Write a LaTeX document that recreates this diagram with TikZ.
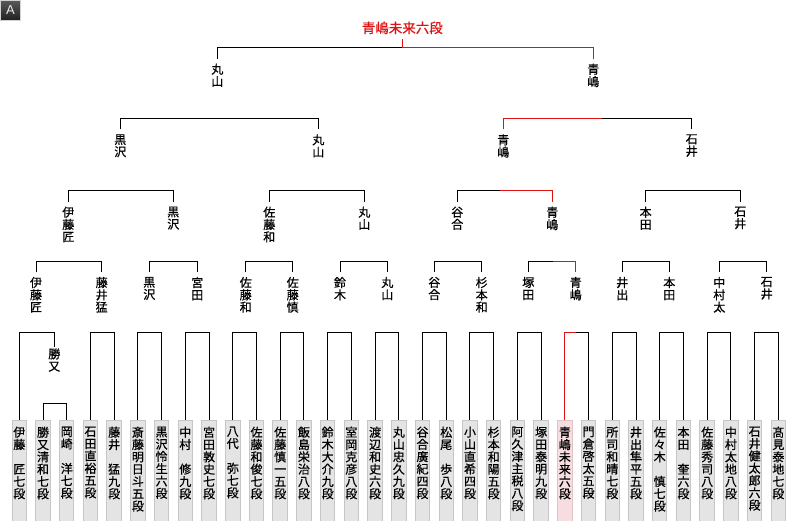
\documentclass[tikz,border=0pt]{standalone}
\usepackage{fontspec}
\setmainfont{Noto Sans CJK JP}[FakeBold=0.6]
\newfontfamily\btnfont{Liberation Sans}
\usetikzlibrary{calc}
\definecolor{boxfill}{RGB}{228,228,228}
\definecolor{boxdraw}{RGB}{198,198,198}
\definecolor{winfill}{RGB}{246,221,223}
\definecolor{windraw}{RGB}{226,196,198}
\definecolor{winred}{RGB}{222,18,18}
\newcommand\zs{\phantom{匠}}
\makeatletter
\newcommand\vstack[1]{\vbox{\baselineskip=12.3pt\lineskiplimit=-100pt\lineskip=0pt%
\@tfor\vs@c:=#1\do{\hbox to 12pt{\hss\vs@c\hss}}}}
\makeatother
\newcommand\labbr[2]{\draw[ln] ([yshift=5pt]#1.north) -- ++(0,-11) -| ([yshift=5pt]#2.north);}
\newcommand\boxbr[2]{\draw[ln] (b#1.north) -- ++(0,-87.7) -| (b#2.north);}
\begin{document}
\begin{tikzpicture}[x=1pt,y=-1pt,
  ln/.style={line width=1pt, draw=black},
  win/.style={line width=1pt, draw=winred},
  lab/.style={anchor=north, inner sep=0pt, outer sep=0pt, font=\fontsize{12}{12.3}\selectfont},
  pbox/.style={anchor=north, rectangle, minimum width=14.5pt, minimum height=110pt, inner sep=0pt, outer sep=0pt, line width=1pt},
  ptext/.style={anchor=north, inner sep=0pt, outer sep=0pt, font=\fontsize{12}{12.3}\selectfont}]
\useasboundingbox (0,0) rectangle (800,520);
\clip (0,0) rectangle (800,520);
\fill[white] (0,0) rectangle (800,520);

% button
\node[draw=gray!35, line width=0.6pt, top color=gray!70!black, bottom color=black!88,
  minimum size=20.5pt, inner sep=0pt, text=gray!15,
  font=\btnfont\fontsize{13}{13}\selectfont] (btn) at (10.5,10.5) {A};

% player boxes
\foreach \n [count=\i from 0] in {伊藤{\zs}匠七段,勝又清和七段,岡崎{\zs}洋七段,石田直裕五段,藤井{\zs}猛九段,斎藤明日斗五段,黒沢怜生六段,中村{\zs}修九段,宮田敦史七段,八代{\zs}弥七段,佐藤和俊七段,佐藤慎一五段,飯島栄治八段,鈴木大介九段,室岡克彦八段,渡辺和史六段,丸山忠久九段,谷合廣紀四段,松尾{\zs}歩八段,小山直希四段,杉本和陽五段,阿久津主税八段,塚田泰明九段,青嶋未来六段,門倉啓太五段,所司和晴七段,井出隼平五段,佐々木{\zs}慎七段,本田{\zs}奎六段,佐藤秀司八段,中村太地八段,石井健太郎六段,髙見泰地七段}{
  \pgfmathsetmacro\xx{19.3+23.72*\i}
  \ifnum\i=23 \def\bfc{winfill}\def\bdc{windraw}\else\def\bfc{boxfill}\def\bdc{boxdraw}\fi
  \node[pbox, fill=\bfc, draw=\bdc] (b\i) at (\xx,420) {};
  \node[ptext] (t\i) at (\xx,426.7) {\expandafter\vstack\expandafter{\n}};
}

% labels
\node[lab] (kat) at (54.3,348.3) {\vstack{勝又}};
\node[lab] (a0) at (36,277) {\vstack{伊藤匠}};
\node[lab] (a1) at (101.7,277) {\vstack{藤井猛}};
\node[lab] (a2) at (149.3,277) {\vstack{黒沢}};
\node[lab] (a3) at (197.3,277) {\vstack{宮田}};
\node[lab] (a4) at (245.7,277) {\vstack{佐藤和}};
\node[lab] (a5) at (292.7,277) {\vstack{佐藤慎}};
\node[lab] (a6) at (340,277) {\vstack{鈴木}};
\node[lab] (a7) at (387.3,277) {\vstack{丸山}};
\node[lab] (a8) at (434.3,277) {\vstack{谷合}};
\node[lab] (a9) at (481.7,277) {\vstack{杉本和}};
\node[lab] (a10) at (528.3,277) {\vstack{塚田}};
\node[lab] (a11) at (575.7,277) {\vstack{青嶋}};
\node[lab] (a12) at (622.3,277) {\vstack{井出}};
\node[lab] (a13) at (669.3,277) {\vstack{本田}};
\node[lab] (a14) at (719.3,277) {\vstack{中村太}};
\node[lab] (a15) at (766.7,277) {\vstack{石井}};

\node[lab] (c0) at (68.3,206.7) {\vstack{伊藤匠}};
\node[lab] (c1) at (173.3,206.7) {\vstack{黒沢}};
\node[lab] (c2) at (269.3,206.7) {\vstack{佐藤和}};
\node[lab] (c3) at (364.3,206.7) {\vstack{丸山}};
\node[lab] (c4) at (457.3,206.7) {\vstack{谷合}};
\node[lab] (c5) at (552.3,206.7) {\vstack{青嶋}};
\node[lab] (c6) at (645.7,206.7) {\vstack{本田}};
\node[lab] (c7) at (740.3,206.7) {\vstack{石井}};

\node[lab] (d0) at (120.3,134.3) {\vstack{黒沢}};
\node[lab] (d1) at (318.3,134.3) {\vstack{丸山}};
\node[lab] (d2) at (503.3,134.3) {\vstack{青嶋}};
\node[lab] (d3) at (691.7,134.3) {\vstack{石井}};

\node[lab] (e0) at (217.3,63.7) {\vstack{丸山}};
\node[lab] (e1) at (593.3,63.7) {\vstack{青嶋}};

\node[anchor=south, inner sep=0pt, text=winred, font=\fontsize{13.5}{14}\selectfont] (champ) at (402.3,34.3) {青嶋未来六段};

% split coordinates for winner path
\coordinate (r1) at (575.7,332.3);
\coordinate (r2) at (553.3,261);
\coordinate (r3) at (500,190.7);
\coordinate (r4) at (601.7,118.3);
\coordinate (r5) at (402.3,47.7);

% brackets: preliminary and first round
\draw[ln] (b1.north) -- ++(0,-16.7) -| (b2.north);
\draw[ln] (b0.north) -- ++(0,-87.7) -| ([yshift=1.6pt]kat.north);
\boxbr{3}{4}\boxbr{5}{6}\boxbr{7}{8}\boxbr{9}{10}\boxbr{11}{12}\boxbr{13}{14}
\boxbr{15}{16}\boxbr{17}{18}\boxbr{19}{20}\boxbr{21}{22}\boxbr{23}{24}
\boxbr{25}{26}\boxbr{27}{28}\boxbr{29}{30}\boxbr{31}{32}

% later rounds
\labbr{a0}{a1}\labbr{a2}{a3}\labbr{a4}{a5}\labbr{a6}{a7}
\labbr{a8}{a9}\labbr{a10}{a11}\labbr{a12}{a13}\labbr{a14}{a15}
\labbr{c0}{c1}\labbr{c2}{c3}\labbr{c4}{c5}\labbr{c6}{c7}
\labbr{d0}{d1}\labbr{d2}{d3}
\labbr{e0}{e1}

% winner path in red
\draw[win] (b23.north) -- ++(0,-87.7) -- (r1);
\draw[win] ([yshift=5pt]a11.north) -- ++(0,-11) -- (r2);
\draw[win] ([yshift=5pt]c5.north) -- ++(0,-11) -- (r3);
\draw[win] ([yshift=5pt]d2.north) -- ++(0,-11) -- (r4);
\draw[win] ([yshift=5pt]e1.north) -- ++(0,-11) -- (r5);
\draw[win] ([yshift=-4.7pt]champ.south) -- (r5);
\end{tikzpicture}
\end{document}
